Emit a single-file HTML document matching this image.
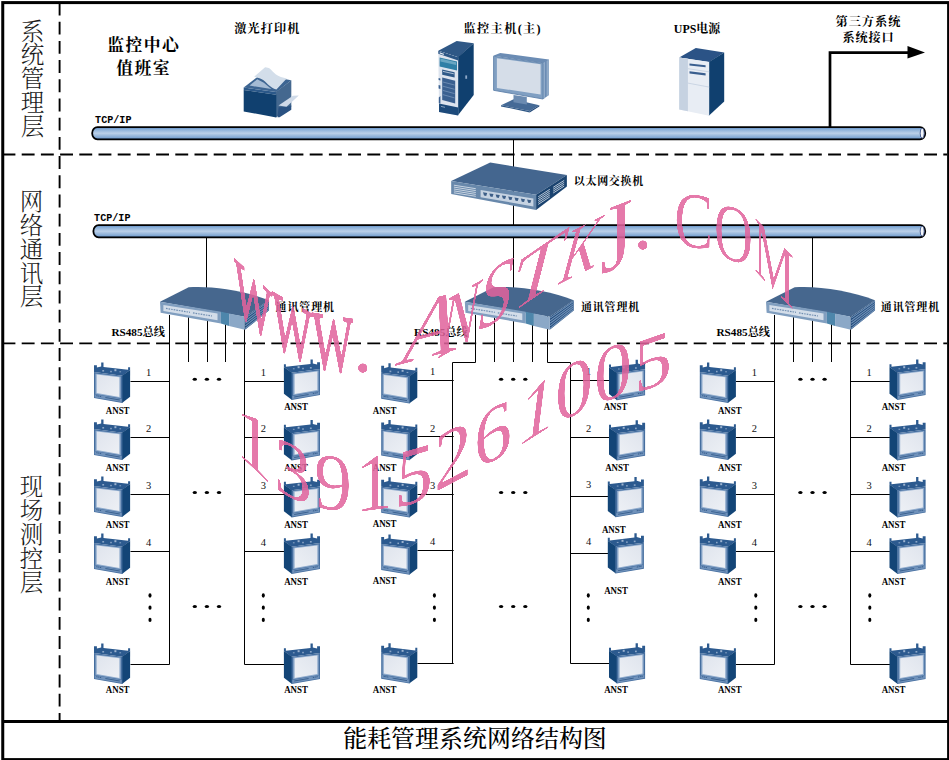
<!DOCTYPE html>
<html lang="zh"><head><meta charset="utf-8"><title>能耗管理系统网络结构图</title>
<style>html,body{margin:0;padding:0;background:#fff;}svg{display:block;}text{font-family:"Liberation Serif","Noto Serif CJK SC",serif;}.b{font-weight:700;fill:#000;}.v{font-weight:300;fill:#1a1a1a;font-size:23.5px;text-anchor:middle;}.n{font-size:10.5px;fill:#111;text-anchor:middle;}.an{font-weight:700;font-size:10.6px;fill:#000;text-anchor:middle;}.wm{fill:#e0639c;font-family:"Liberation Serif",serif;}.wk{stroke:#e0639c;stroke-width:1.9px;vector-effect:non-scaling-stroke;}</style></head><body>
<svg width="949" height="760" viewBox="0 0 949 760">
<defs>
<filter id="thin" x="-3%" y="-3%" width="106%" height="106%" color-interpolation-filters="sRGB"><feGaussianBlur in="SourceAlpha" stdDeviation="0.7" result="b"/><feComponentTransfer in="b" result="t"><feFuncA type="linear" slope="4" intercept="-2.3"/></feComponentTransfer><feFlood flood-color="#e0639c" flood-opacity=".86"/><feComposite in2="t" operator="in"/></filter>
<linearGradient id="bar" x1="0" y1="0" x2="0" y2="1"><stop offset="0" stop-color="#4a74ad"/><stop offset=".14" stop-color="#82aad6"/><stop offset=".5" stop-color="#bbd0e8"/><stop offset=".86" stop-color="#7fa6d2"/><stop offset="1" stop-color="#4a74ad"/></linearGradient>
<linearGradient id="scr" x1="0" y1="0" x2="1" y2="1"><stop offset="0" stop-color="#dfe4ed"/><stop offset="1" stop-color="#edf0f5"/></linearGradient>
<g id="dev"><path d="M0,10.1 L0,3.2 L2.9,3.2 L2.9,5.6 L7.2,4.4 L7.2,0.6 L9.5,0.6 L9.5,4.9 L34.1,7.8 L34.1,5.2 L36.1,5.2 L36.1,8.1 L28.4,13.7 Z" fill="#2c5a8f"/><path d="M28,13.7 L36.1,8.1 L36.1,34.8 L28,41 Z" fill="#134577"/><path d="M0,10.1 L28.4,13.7 L28.4,41 L0,36.1 Z" fill="#456e9f"/><path d="M1.4,11.4 L26.8,14.6 L26.8,36.2 L1.4,32 Z" fill="#8eaacc"/><path d="M2.7,12.4 L25.4,15.3 L25.4,35 L2.7,31 Z" fill="url(#scr)"/><path d="M0.7,32.3 L27.7,36.9 L27.7,40.1 L0.7,35.4 Z" fill="#7092bb"/><path d="M11.4,35.5 L25.8,38" stroke="#2d5585" stroke-width=".8" fill="none"/><path d="M2.4,33.7 L7.3,34.5" stroke="#2d5585" stroke-width=".9" stroke-dasharray="1.2 .6" fill="none"/><rect x="8.3" y="8" width="1.8" height="1.6" fill="#8aa5c6"/><rect x="16.2" y="8.8" width="1.6" height="1.5" fill="#8aa5c6"/><rect x="20.4" y="7.2" width="2" height="2" fill="#9db4d0"/><rect x="25.4" y="9.3" width="1.7" height="1" fill="#8aa5c6"/></g>
<g id="cm"><path d="M84.9,29.8 L108.9,13.3 L108.9,23.6 L84.9,42.8 Z" fill="#1f4877"/><path d="M85.3,31.10 L108.9,14.33" stroke="#6f90b7" stroke-width="1.15" fill="none"/><path d="M85.3,33.70 L108.9,16.39" stroke="#6f90b7" stroke-width="1.15" fill="none"/><path d="M85.3,36.30 L108.9,18.45" stroke="#6f90b7" stroke-width="1.15" fill="none"/><path d="M85.3,38.90 L108.9,20.51" stroke="#6f90b7" stroke-width="1.15" fill="none"/><path d="M85.3,41.50 L108.9,22.57" stroke="#6f90b7" stroke-width="1.15" fill="none"/><path d="M0,14.7 L28.7,0.3 C50,-1.5 85,3.5 108.9,13.3 L84.9,29.8 Z" fill="#46678e"/><path d="M0,14.7 L60.9,24.7 L60.9,36.6 L0.6,25.7 Z" fill="#809ebf"/><path d="M3.4,18.1 L57.5,26.4 L57.5,33.2 L3.4,23.9 Z" fill="#d3dde9"/><path d="M6,21.4 L30,25.3 M33,25.9 L52,29" stroke="#6f8db0" stroke-width="1.2" stroke-dasharray="1.6 1" fill="none"/><path d="M60.9,24.7 L69.1,26.6 L69.1,39 L60.9,36.6 Z" fill="#4d86ab"/><path d="M69.1,26.6 L84.9,29.8 L84.9,42.8 L69.1,39 Z" fill="#8ba8c7"/></g>
</defs>
<rect x="0" y="0" width="949" height="760" fill="#fff"/>
<rect x="2.75" y="2.6" width="945.85" height="757" fill="none" stroke="#000" stroke-width="3"/>
<line x1="2.75" y1="721.5" x2="948.6" y2="721.5" stroke="#000" stroke-width="3.2"/>
<g stroke="#000" stroke-width="1.9" stroke-dasharray="12.9 6.3" fill="none">
<line x1="59.6" y1="2.5" x2="59.6" y2="720"/>
<line x1="2.5" y1="154.5" x2="947" y2="154.5"/>
<line x1="2.5" y1="343.4" x2="947" y2="343.4"/>
</g>
<text class="v" x="32.6 32.6 32.6 32.6 32.6" y="39.5 63.4 87.3 111.2 135.1">系统管理层</text>
<text class="v" x="31.4 31.4 31.4 31.4 31.4" y="210.1 233.9 257.7 281.5 305.3">网络通讯层</text>
<text class="v" x="31.4 31.4 31.4 31.4 31.4" y="494.8 518.8 542.8 566.8 590.8">现场测控层</text>
<g stroke="#000" stroke-width="1" fill="none">
<path d="M513.5,140 V290"/>
<path d="M206.5,238 V292"/>
<path d="M812.5,238 V292"/>
<path d="M188.5,315.0 V362.0 M207.5,315.0 V362.0 M225.5,315.0 V362.0 M169.5,315.0 V664.5 M244.5,315.0 V664.5 M130.5,381.5 H169.5 M130.5,437.5 H169.5 M130.5,494.5 H169.5 M130.5,551.5 H169.5 M130.5,664.5 H169.5 M244.5,381.5 H284.5 M244.5,437.5 H284.5 M244.5,494.5 H284.5 M244.5,551.5 H284.5 M244.5,664.5 H284.5"/>
<path d="M494.5,315.0 V362.0 M513.5,315.0 V362.0 M532.5,315.0 V362.0 M475.5,315.0 V362.5 H452.5 V663.5 M547.5,315.0 V362.5 H570.5 V663.5 M417.5,380.5 H453.7 M417.5,436.5 H453.7 M417.5,494.5 H453.7 M417.5,550.5 H453.7 M417.5,663.5 H453.7 M570.5,380.5 H609.5 M570.5,437.5 H609.5 M570.5,496.5 H609.5 M570.5,553.5 H609.5 M570.5,663.5 H609.5"/>
<path d="M793.5,315.0 V362.0 M812.5,315.0 V362.0 M831.5,315.0 V362.0 M774.5,315.0 V664.5 M850.5,315.0 V664.5 M736.0,381.5 H774.5 M736.0,437.5 H774.5 M736.0,494.5 H774.5 M736.0,551.5 H774.5 M736.0,664.5 H774.5 M850.5,381.5 H890.0 M850.5,437.5 H890.0 M850.5,494.5 H890.0 M850.5,551.5 H890.0 M850.5,664.5 H890.0"/>
</g>
<rect x="92.2" y="127.1" width="833.0" height="12.3" rx="5.2" ry="5.8" fill="url(#bar)" stroke="#000" stroke-width="1.8"/>
<ellipse cx="922.2" cy="133.2" rx="2" ry="5.0" fill="#f4f7fb" stroke="#2a3f78" stroke-width=".8"/>
<rect x="93.4" y="225.1" width="831.8" height="12.3" rx="5.2" ry="5.8" fill="url(#bar)" stroke="#000" stroke-width="1.8"/>
<ellipse cx="922.2" cy="231.2" rx="2" ry="5.0" fill="#f4f7fb" stroke="#2a3f78" stroke-width=".8"/>
<path d="M830,127 V52.6 H909" fill="none" stroke="#000" stroke-width="2.7"/>
<path d="M907.5,46 L925,52.4 L907.5,58.6 Z" fill="#000"/>
<g><path d="M243.7,87.4 L260.3,74.7 L291.3,80.3 L276.3,92.1 Z" fill="#3d6592"/><path d="M249.6,85.6 L257.2,79.2 L263.8,82.8 L271.4,89.1 Z" fill="#a5bbd4"/><path d="M243.7,87.4 L276.3,92.1 L276.3,94.8 L243.7,90 Z" fill="#2b5889"/><path d="M275.8,92.1 L291.3,80.3 L291.3,106.6 L275.8,117.4 Z" fill="#44688f"/><path d="M243.7,90 L276.3,94.8 L276.3,117.4 L243.7,111.4 Z" fill="#10406f"/><path d="M278.6,107.2 L286.5,107 L291.3,105.6 L291.3,109.8 L279.6,117.3 L277.5,117.3 Z" fill="#2a5282"/><path d="M254.1,76.8 L265.1,67.2 C267.4,67.4 268.4,67.8 269.7,68.6 C272,70.4 273.4,72.6 275.6,74.3 C278.6,76.6 283,77.6 286.7,78.6 L276.4,89.6 C273.2,88.4 270.4,86.6 268,84.4 C265.6,82.2 264,80.2 261.3,79 C259,78 256.4,77.6 254.1,76.8 Z" fill="#d3deea"/><path d="M278.5,105.6 L292.9,95.8 L298.8,95.4 L286.5,106.8 Z" fill="#cfdae8"/></g>
<g><path d="M438.3,50.7 L456.7,41.1 L473.7,43.3 L458.2,57.3 Z" fill="#2f5886"/><path d="M457.8,57.3 L473.7,43.3 L473.7,94.9 L457.8,115.6 Z" fill="#10406f"/><path d="M438.3,50.7 L458.2,57.3 L458.2,115.6 L439,111.9 Z" fill="#dde4ee"/><path d="M438.3,50.7 L458.2,57.3 L458.2,60.4 L438.3,53.8 Z" fill="#2a5585"/><path d="M439.6,52.3 L443.8,53.7 L443.8,54.9 L439.6,53.5 Z" fill="#e8eef5"/><path d="M439.6,57.6 L457,61.6 L457,70.4 L439.6,66.6 Z" fill="#2f7fa6"/><path d="M440.4,58.6 L456.2,62.2 L456.2,65 L440.4,61.4 Z" fill="#69a6c2"/><path d="M442.2,69.4 L454.6,72.2 L454.6,77.6 L442.2,74.8 Z" fill="#2f5988"/><path d="M443,71.4 L453.8,73.8" stroke="#b9c9dc" stroke-width=".9" fill="none"/><path d="M442.2,77.6 L455.2,80.8 L455.2,103.4 L442.2,100 Z" fill="#3a6090"/><path d="M442.8,82 L454.6,85 M442.8,86.2 L454.6,89.3 M442.8,90.4 L454.6,93.6 M442.8,94.6 L454.6,97.9" stroke="#7e9bbf" stroke-width=".7" fill="none"/><path d="M439,103.4 L458.2,107.6 L458.2,115.6 L439,111.9 Z" fill="#1d4a7a"/><path d="M441,106.4 L445,107.3" stroke="#9fb5cf" stroke-width=".8" fill="none"/><path d="M438.6,78 L440.4,78.4 L440.4,80.4 L438.6,80 Z M438.6,85 L440.4,85.4 L440.4,89 L438.6,88.6 Z M438.8,97.4 L440.4,96 L440.4,103.6 L438.8,103.2 Z" fill="#3a6090"/><rect x="465.3" y="75.4" width="1.8" height="3.4" fill="#8fa9c9"/></g>
<g><path d="M501,105.2 L513.5,99.3 L539.3,105.2 L529.7,111.1 Z" fill="#456a96"/><path d="M501,105.2 L529.7,111.1 L529.7,112.4 L501,106.4 Z" fill="#2f5886"/><path d="M529.7,111.1 L539.3,105.2 L539.3,106.4 L529.7,112.4 Z" fill="#244b7a"/><path d="M513.5,94.9 L526.8,97.1 L526.8,104.5 L513.5,102.3 Z" fill="#6b8bb1"/><path d="M493.2,55.8 L500.2,52.9 L548.9,59.5 L548.9,94.9 L543,99.3 L543,63.2 Z" fill="#6b8cb4"/><path d="M543,63.2 L545,61.8 L545,97.8 L543,99.3 Z M546.6,60.9 L548.9,59.5 L548.9,94.9 L546.6,96.6 Z" fill="#91abc9"/><path d="M493.6,56.2 L543,63.4 L543,99 L493.6,90.3 Z" fill="#809fc2" stroke="#5f81aa" stroke-width=".9" stroke-linejoin="round"/><path d="M496.9,58.3 L540.6,64.2 L540.6,94.6 L496.9,87.9 Z" fill="#d5dde8"/></g>
<g><path d="M679.2,57.4 L695.8,47.9 L724.2,52.6 L709.2,62.1 Z" fill="#2b5386"/><path d="M708.8,62.1 L724.2,52.6 L724.2,101.6 L708.8,115.8 Z" fill="#10406f"/><path d="M679.2,57.4 L709.2,62.1 L709.2,115.8 L679.2,109.5 Z" fill="#e8edf4"/><path d="M679.2,57.4 L687.9,58.8 L687.9,111.3 L679.2,109.5 Z" fill="#c6d2e1"/><path d="M689.5,63.4 L705.6,65.3 L705.6,67.3 L689.5,65.4 Z M689.5,71.3 L705.6,73.2 L705.6,75.5 L689.5,73.6 Z" fill="#3a5f8f"/><path d="M687.9,68.7 L709.2,71.9 M687.9,83.1 L709.2,87.1" stroke="#c3cfdf" stroke-width=".8" fill="none"/></g>
<g transform="translate(451,162)"><path d="M0.2,19.1 L39.2,0.6 L115.9,12.9 L85.1,32.8 Z" fill="#44668f"/><path d="M0.2,19.1 L85.1,32.8 L85.1,47.9 L0.2,32.1 Z" fill="#6888ab"/><path d="M85.1,32.8 L115.9,12.9 L115.9,24.6 L85.1,47.9 Z" fill="#1a436f"/><path d="M29.6,28 L82.4,36.6 L82.4,44.4 L29.6,35.3 Z" fill="#c6d3e2"/><path d="M2.9,23.2 L24.8,26.7 M2.9,25.1 L24.8,28.6 M2.9,27.0 L24.8,30.5 M2.9,28.9 L24.8,32.4 M2.9,30.8 L24.8,34.3" stroke="#dfe7f0" stroke-width=".8" fill="none"/><path d="M87.2,34.8 L98.8,27.3 M87.2,36.7 L98.8,29.2 M87.2,38.6 L98.8,31.1 M87.2,40.5 L98.8,33.0 M87.2,42.4 L98.8,34.9 M102.2,25.3 L113.2,18.4 M102.2,27.2 L113.2,20.3 M102.2,29.1 L113.2,22.2 M102.2,31.0 L113.2,24.1" stroke="#dfe7f0" stroke-width=".8" fill="none"/><path d="M32.0,30.3 l4.2,.7 l-1,2.9 l-2.2,-.4 Z M38.3,31.4 l4.2,.7 l-1,2.9 l-2.2,-.4 Z M44.6,32.4 l4.2,.7 l-1,2.9 l-2.2,-.4 Z M50.9,33.4 l4.2,.7 l-1,2.9 l-2.2,-.4 Z M57.2,34.5 l4.2,.7 l-1,2.9 l-2.2,-.4 Z M63.5,35.5 l4.2,.7 l-1,2.9 l-2.2,-.4 Z M69.8,36.5 l4.2,.7 l-1,2.9 l-2.2,-.4 Z M76.1,37.5 l4.2,.7 l-1,2.9 l-2.2,-.4 Z" fill="#3d5f88"/></g>
<use href="#cm" x="160.0" y="287"/>
<use href="#cm" x="464.8" y="287"/>
<use href="#cm" x="766.0" y="287"/>
<use href="#dev" x="94.0" y="362.0"/>
<use href="#dev" x="94.0" y="419.0"/>
<use href="#dev" x="94.0" y="476.0"/>
<use href="#dev" x="94.0" y="533.0"/>
<use href="#dev" x="94.0" y="643.0"/>
<use href="#dev" transform="translate(320.0,359.0) scale(-1,1)"/>
<use href="#dev" transform="translate(320.0,419.5) scale(-1,1)"/>
<use href="#dev" transform="translate(320.0,476.5) scale(-1,1)"/>
<use href="#dev" transform="translate(320.0,533.0) scale(-1,1)"/>
<use href="#dev" transform="translate(320.0,643.0) scale(-1,1)"/>
<use href="#dev" x="381.2" y="362.6"/>
<use href="#dev" x="381.2" y="419.3"/>
<use href="#dev" x="381.2" y="476.6"/>
<use href="#dev" x="381.2" y="533.8"/>
<use href="#dev" x="381.2" y="642.6"/>
<use href="#dev" transform="translate(645.1,359.2) scale(-1,1)"/>
<use href="#dev" transform="translate(645.1,419.6) scale(-1,1)"/>
<use href="#dev" transform="translate(643.9,476.3) scale(-1,1)"/>
<use href="#dev" transform="translate(643.9,532.6) scale(-1,1)"/>
<use href="#dev" transform="translate(645.1,642.6) scale(-1,1)"/>
<use href="#dev" x="699.8" y="362.0"/>
<use href="#dev" x="699.8" y="419.0"/>
<use href="#dev" x="699.8" y="476.0"/>
<use href="#dev" x="699.8" y="533.0"/>
<use href="#dev" x="699.8" y="643.0"/>
<use href="#dev" transform="translate(925.6,359.0) scale(-1,1)"/>
<use href="#dev" transform="translate(925.6,419.5) scale(-1,1)"/>
<use href="#dev" transform="translate(925.6,476.5) scale(-1,1)"/>
<use href="#dev" transform="translate(925.6,533.0) scale(-1,1)"/>
<use href="#dev" transform="translate(925.6,643.0) scale(-1,1)"/>
<text class="an" transform="translate(117.7,413.9) scale(.84,1)">ANST</text>
<text class="an" transform="translate(117.7,471.0) scale(.84,1)">ANST</text>
<text class="an" transform="translate(117.7,527.6) scale(.84,1)">ANST</text>
<text class="an" transform="translate(117.7,584.9) scale(.84,1)">ANST</text>
<text class="an" transform="translate(117.7,693.4) scale(.84,1)">ANST</text>
<text class="an" transform="translate(296.0,409.9) scale(.84,1)">ANST</text>
<text class="an" transform="translate(296.0,471.0) scale(.84,1)">ANST</text>
<text class="an" transform="translate(296.0,527.6) scale(.84,1)">ANST</text>
<text class="an" transform="translate(296.0,584.9) scale(.84,1)">ANST</text>
<text class="an" transform="translate(296.0,693.4) scale(.84,1)">ANST</text>
<text class="an" transform="translate(384.6,413.6) scale(.84,1)">ANST</text>
<text class="an" transform="translate(384.6,470.8) scale(.84,1)">ANST</text>
<text class="an" transform="translate(384.6,527.2) scale(.84,1)">ANST</text>
<text class="an" transform="translate(384.6,583.8) scale(.84,1)">ANST</text>
<text class="an" transform="translate(384.6,693.2) scale(.84,1)">ANST</text>
<text class="an" transform="translate(615.5,410.2) scale(.84,1)">ANST</text>
<text class="an" transform="translate(617.0,471.0) scale(.84,1)">ANST</text>
<text class="an" transform="translate(613.8,532.9) scale(.84,1)">ANST</text>
<text class="an" transform="translate(616.0,594.1) scale(.84,1)">ANST</text>
<text class="an" transform="translate(616.0,693.2) scale(.84,1)">ANST</text>
<text class="an" transform="translate(729.8,414.2) scale(.84,1)">ANST</text>
<text class="an" transform="translate(729.8,471.0) scale(.84,1)">ANST</text>
<text class="an" transform="translate(729.8,527.6) scale(.84,1)">ANST</text>
<text class="an" transform="translate(729.8,584.9) scale(.84,1)">ANST</text>
<text class="an" transform="translate(729.8,693.4) scale(.84,1)">ANST</text>
<text class="an" transform="translate(893.5,410.0) scale(.84,1)">ANST</text>
<text class="an" transform="translate(893.5,471.0) scale(.84,1)">ANST</text>
<text class="an" transform="translate(893.5,527.6) scale(.84,1)">ANST</text>
<text class="an" transform="translate(893.5,584.9) scale(.84,1)">ANST</text>
<text class="an" transform="translate(893.5,693.4) scale(.84,1)">ANST</text>
<text class="n" x="148.6" y="376.0">1</text>
<text class="n" x="148.6" y="432.4">2</text>
<text class="n" x="148.6" y="488.9">3</text>
<text class="n" x="148.6" y="545.9">4</text>
<text class="n" x="263.3" y="375.8">1</text>
<text class="n" x="263.3" y="432.4">2</text>
<text class="n" x="263.3" y="488.9">3</text>
<text class="n" x="263.3" y="545.9">4</text>
<text class="n" x="432.6" y="375.2">1</text>
<text class="n" x="432.6" y="431.6">2</text>
<text class="n" x="432.6" y="488.6">3</text>
<text class="n" x="432.6" y="545.4">4</text>
<text class="n" x="588.6" y="375.2">1</text>
<text class="n" x="588.6" y="431.9">2</text>
<text class="n" x="588.6" y="488.4">3</text>
<text class="n" x="588.6" y="545.2">4</text>
<text class="n" x="754.4" y="376.0">1</text>
<text class="n" x="754.4" y="432.4">2</text>
<text class="n" x="754.4" y="488.9">3</text>
<text class="n" x="754.4" y="545.9">4</text>
<text class="n" x="869.0" y="375.8">1</text>
<text class="n" x="869.0" y="432.4">2</text>
<text class="n" x="869.0" y="488.9">3</text>
<text class="n" x="869.0" y="545.9">4</text>
<g fill="#000"><ellipse cx="194.8" cy="379.2" rx="2.15" ry="1.50"/><ellipse cx="206.9" cy="379.2" rx="2.15" ry="1.50"/><ellipse cx="219.0" cy="379.2" rx="2.15" ry="1.50"/><ellipse cx="194.8" cy="492.6" rx="2.15" ry="1.50"/><ellipse cx="206.9" cy="492.6" rx="2.15" ry="1.50"/><ellipse cx="219.0" cy="492.6" rx="2.15" ry="1.50"/><ellipse cx="194.8" cy="606.5" rx="2.15" ry="1.50"/><ellipse cx="206.9" cy="606.5" rx="2.15" ry="1.50"/><ellipse cx="219.0" cy="606.5" rx="2.15" ry="1.50"/><ellipse cx="501.1" cy="379.2" rx="2.15" ry="1.50"/><ellipse cx="513.2" cy="379.2" rx="2.15" ry="1.50"/><ellipse cx="525.3" cy="379.2" rx="2.15" ry="1.50"/><ellipse cx="501.1" cy="492.6" rx="2.15" ry="1.50"/><ellipse cx="513.2" cy="492.6" rx="2.15" ry="1.50"/><ellipse cx="525.3" cy="492.6" rx="2.15" ry="1.50"/><ellipse cx="501.1" cy="606.5" rx="2.15" ry="1.50"/><ellipse cx="513.2" cy="606.5" rx="2.15" ry="1.50"/><ellipse cx="525.3" cy="606.5" rx="2.15" ry="1.50"/><ellipse cx="800.4" cy="379.2" rx="2.15" ry="1.50"/><ellipse cx="812.5" cy="379.2" rx="2.15" ry="1.50"/><ellipse cx="824.6" cy="379.2" rx="2.15" ry="1.50"/><ellipse cx="800.4" cy="492.6" rx="2.15" ry="1.50"/><ellipse cx="812.5" cy="492.6" rx="2.15" ry="1.50"/><ellipse cx="824.6" cy="492.6" rx="2.15" ry="1.50"/><ellipse cx="800.4" cy="606.5" rx="2.15" ry="1.50"/><ellipse cx="812.5" cy="606.5" rx="2.15" ry="1.50"/><ellipse cx="824.6" cy="606.5" rx="2.15" ry="1.50"/><ellipse cx="150.0" cy="595.5" rx="1.55" ry="2.15"/><ellipse cx="150.0" cy="607.7" rx="1.55" ry="2.15"/><ellipse cx="150.0" cy="619.9" rx="1.55" ry="2.15"/><ellipse cx="263.3" cy="595.5" rx="1.55" ry="2.15"/><ellipse cx="263.3" cy="607.7" rx="1.55" ry="2.15"/><ellipse cx="263.3" cy="619.9" rx="1.55" ry="2.15"/><ellipse cx="434.4" cy="595.5" rx="1.55" ry="2.15"/><ellipse cx="434.4" cy="607.7" rx="1.55" ry="2.15"/><ellipse cx="434.4" cy="619.9" rx="1.55" ry="2.15"/><ellipse cx="588.3" cy="595.5" rx="1.55" ry="2.15"/><ellipse cx="588.3" cy="607.7" rx="1.55" ry="2.15"/><ellipse cx="588.3" cy="619.9" rx="1.55" ry="2.15"/><ellipse cx="755.8" cy="595.5" rx="1.55" ry="2.15"/><ellipse cx="755.8" cy="607.7" rx="1.55" ry="2.15"/><ellipse cx="755.8" cy="619.9" rx="1.55" ry="2.15"/><ellipse cx="869.8" cy="595.5" rx="1.55" ry="2.15"/><ellipse cx="869.8" cy="607.7" rx="1.55" ry="2.15"/><ellipse cx="869.8" cy="619.9" rx="1.55" ry="2.15"/></g>
<text class="b" x="107.2" y="50.6" font-size="16.8" letter-spacing="1.45">监控中心</text>
<text class="b" x="116.3" y="74.2" font-size="16.8" letter-spacing="1.45">值班室</text>
<text class="b" x="234.3" y="33.2" font-size="12.2" letter-spacing="1.05">激光打印机</text>
<text class="b" x="463.6" y="33.2" font-size="12.2" textLength="77" lengthAdjust="spacing">监控主机(主)</text>
<text class="b" x="673.8" y="33.2" font-size="12.2" textLength="46.4" lengthAdjust="spacingAndGlyphs">UPS电源</text>
<text class="b" x="835.4" y="25.9" font-size="12.2" letter-spacing="1.05">第三方系统</text>
<text class="b" x="842.6" y="42.0" font-size="12.2" letter-spacing="0.75">系统接口</text>
<text class="b" x="573.8" y="184.7" font-size="11.0" letter-spacing="0.68">以太网交换机</text>
<text class="b" x="275.6" y="311.2" font-size="11.0" letter-spacing="0.85">通讯管理机</text>
<text class="b" x="580.9" y="311.2" font-size="11.0" letter-spacing="0.85">通讯管理机</text>
<text class="b" x="880.8" y="311.2" font-size="11.0" letter-spacing="0.85">通讯管理机</text>
<text class="b" x="111.4" y="335.6" font-size="11.2" textLength="53.6" lengthAdjust="spacingAndGlyphs">RS485总线</text>
<text class="b" x="414.1" y="335.6" font-size="11.2" textLength="53.6" lengthAdjust="spacingAndGlyphs">RS485总线</text>
<text class="b" x="716.5" y="335.6" font-size="11.2" textLength="53.6" lengthAdjust="spacingAndGlyphs">RS485总线</text>
<text class="b" style="font-family:'Liberation Mono','Noto Serif CJK SC',monospace" transform="translate(95.1,122.6) scale(1,1.14)" font-size="10.1">TCP/IP</text>
<text class="b" style="font-family:'Liberation Mono','Noto Serif CJK SC',monospace" transform="translate(94.1,220.7) scale(1,1.14)" font-size="10.1">TCP/IP</text>
<text x="475" y="746.6" font-size="23.9" font-weight="500" letter-spacing=".08" fill="#000" text-anchor="middle">能耗管理系统网络结构图</text>
<g filter="url(#thin)"><desc>WWW.ANSTKJ.COM 13915261005</desc>
<g><text class="wm wk" font-size="100" transform="matrix(0.4025 0.3771 0.0000 0.7704 234.0 308.7)">W</text><text class="wm wk" font-size="100" transform="matrix(0.4237 0.2373 0.0000 0.8006 272.0 344.3)">W</text><text class="wm wk" font-size="100" transform="matrix(0.4343 0.0667 0.0000 0.8157 312.0 366.7)">W</text><text class="wm" font-size="82" x="352.6" y="371.5">.</text><text class="wm" font-size="100" transform="matrix(0.8670 -0.2327 -0.2719 0.9517 393.7 366.4)">A</text><text class="wm" font-size="100" transform="matrix(0.5125 -0.2909 -0.1662 0.9215 436.5 359.5)">N</text><text class="wm" font-size="100" transform="matrix(0.6475 -0.3561 -0.1586 0.9366 474.0 334.0)">S</text><text class="wm" font-size="100" transform="matrix(0.8511 -0.5810 -0.2221 0.8761 505.0 318.0)">T</text><text class="wm" font-size="100" transform="matrix(0.5263 -0.2632 -0.2236 0.8338 556.0 286.0)">K</text><text class="wm" font-size="100" transform="matrix(0.8483 -0.3342 0.0000 0.9668 600.0 275.0)">J</text><text class="wm" font-size="82" x="632.5" y="248.5">.</text><text class="wm" font-size="100" transform="matrix(0.5847 0.0600 0.0000 0.8006 674.0 245.5)">C</text><text class="wm" font-size="100" transform="matrix(0.5402 0.1662 0.0000 0.8157 714.0 255.0)">O</text><text class="wm" font-size="100" transform="matrix(0.4499 0.4612 0.0000 0.8157 754.0 270.0)">M</text></g>
<g><text class="wm" font-size="100" transform="matrix(0.7600 0.7200 0.0000 0.7988 235.0 451.0)">1</text><text class="wm" font-size="100" transform="matrix(0.7600 0.3800 0.0000 0.8136 274.0 489.0)">3</text><text class="wm" font-size="100" transform="matrix(0.7600 0.1200 0.0000 0.8136 314.0 507.0)">9</text><text class="wm" font-size="100" transform="matrix(0.7600 -0.1000 0.0000 0.8136 355.0 512.5)">1</text><text class="wm" font-size="100" transform="matrix(0.7600 -0.2200 -0.0444 0.8432 394.0 509.0)">5</text><text class="wm" font-size="100" transform="matrix(0.7600 -0.3960 0.0000 0.8284 434.0 492.7)">2</text><text class="wm" font-size="100" transform="matrix(0.7600 -0.3800 0.0000 0.8136 474.0 470.5)">6</text><text class="wm" font-size="100" transform="matrix(0.7600 -0.4800 -0.1036 0.8284 515.0 449.0)">1</text><text class="wm" font-size="100" transform="matrix(0.7600 -0.3800 0.0000 0.7988 555.0 424.7)">0</text><text class="wm" font-size="100" transform="matrix(0.7600 -0.3120 0.0000 0.7988 594.0 406.4)">0</text><text class="wm" font-size="100" transform="matrix(0.7600 -0.2660 0.0000 0.7692 634.0 393.8)">5</text></g>
</g>
</svg></body></html>
